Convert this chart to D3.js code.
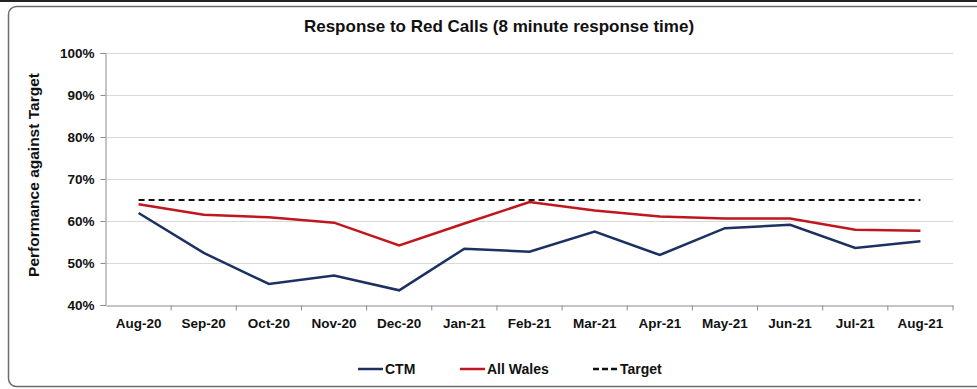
<html>
<head>
<meta charset="utf-8">
<title>Response to Red Calls</title>
<script src="https://d3js.org/d3.v7.min.js"></script>
<style>
  body { margin: 0; background: #fff; }
  text { font-family: "Liberation Sans", Arial, sans-serif; font-weight: bold; fill: #111; }
  .grid line { stroke: #d9d9d9; stroke-width: 1px; }
</style>
</head>
<body>
<div id="chart"></div>
<script>
// data
var months = ["Aug-20","Sep-20","Oct-20","Nov-20","Dec-20","Jan-21","Feb-21","Mar-21","Apr-21","May-21","Jun-21","Jul-21","Aug-21"];
var ctm = [61.9, 52.4, 45.0, 47.0, 43.5, 53.4, 52.7, 57.5, 51.9, 58.3, 59.1, 53.6, 55.2];
var allWales = [64.0, 61.5, 60.9, 59.6, 54.2, 59.4, 64.5, 62.5, 61.1, 60.6, 60.6, 57.9, 57.7];
var target = [65, 65, 65, 65, 65, 65, 65, 65, 65, 65, 65, 65, 65];
var yTicks = [40, 50, 60, 70, 80, 90, 100];

var width = 977, height = 389;
var margin = {top: 53, right: 24, bottom: 84, left: 106};

var svg = d3.select("#chart").append("svg")
    .attr("width", width)
    .attr("height", height);

// frame
svg.append("rect").attr("x", 0).attr("y", 0).attr("width", width).attr("height", 2).attr("fill", "#222");
svg.append("rect")
    .attr("x", 8.5).attr("y", 6.5).attr("width", 990).attr("height", 380)
    .attr("rx", 8)
    .attr("fill", "none").attr("stroke", "#6b6b6b").attr("stroke-width", 1.5);

var x = d3.scaleBand().domain(months).range([margin.left, width - margin.right]);
var y = d3.scaleLinear().domain([40, 100]).range([height - margin.bottom, margin.top]);

// grid
svg.append("g").attr("class", "grid")
  .selectAll("line").data(yTicks.slice(1)).enter().append("line")
    .attr("x1", margin.left).attr("x2", width - margin.right)
    .attr("y1", function(d) { return Math.round(y(d)) + 0.5; })
    .attr("y2", function(d) { return Math.round(y(d)) + 0.5; });

// y axis
var yAxis = svg.append("g")
    .attr("transform", "translate(" + (margin.left - 0.5) + ",0)")
    .call(d3.axisLeft(y).tickValues(yTicks).tickSize(5).tickPadding(6).tickFormat(function(d) { return d + "%"; }));
yAxis.selectAll("text").style("font-size", "13.5px");
yAxis.selectAll("line, path").attr("stroke", "#8c8c8c");

// x axis, ticks at band edges
var xAxis = svg.append("g")
    .attr("transform", "translate(0," + (Math.round(y(40)) + 0.5) + ")")
    .call(d3.axisBottom(x).tickSize(0).tickPadding(13));
xAxis.selectAll("text").style("font-size", "13.5px");
xAxis.select("path").attr("stroke", "#8c8c8c");
xAxis.selectAll(".edge").data(months.slice(1).concat(["end"])).enter().append("line")
    .attr("class", "edge")
    .attr("x1", function(d, i) { return x(months[0]) + x.step() * (i + 1); })
    .attr("x2", function(d, i) { return x(months[0]) + x.step() * (i + 1); })
    .attr("y1", 0).attr("y2", 5)
    .attr("stroke", "#8c8c8c");

function cx(d, i) { return x(months[i]) + x.bandwidth() / 2; }

var line = d3.line().x(cx).y(function(d) { return y(d); });

svg.append("path").datum(target)
    .attr("d", line).attr("fill", "none")
    .attr("stroke", "#111").attr("stroke-width", 2.2).attr("stroke-dasharray", "6,4");
svg.append("path").datum(allWales)
    .attr("d", line).attr("fill", "none")
    .attr("stroke", "#c0161e").attr("stroke-width", 2.5);
svg.append("path").datum(ctm)
    .attr("d", line).attr("fill", "none")
    .attr("stroke", "#1c3161").attr("stroke-width", 2.5);

// title & axis label
svg.append("text").attr("x", 499).attr("y", 32)
    .attr("text-anchor", "middle").style("font-size", "17px")
    .text("Response to Red Calls (8 minute response time)");

svg.append("text")
    .attr("transform", "translate(39,175) rotate(-90)")
    .attr("text-anchor", "middle").style("font-size", "15.5px")
    .text("Performance against Target");

// legend
var legend = [
  {name: "CTM", color: "#1c3161", dash: null, x: 358},
  {name: "All Wales", color: "#c0161e", dash: null, x: 460},
  {name: "Target", color: "#111", dash: "6,3", x: 593}
];
var lg = svg.selectAll(".lg").data(legend).enter().append("g").attr("class", "lg")
    .attr("transform", function(d) { return "translate(" + d.x + ",369)"; });
lg.append("line").attr("x1", 0).attr("x2", 25).attr("y1", 0).attr("y2", 0)
    .attr("stroke", function(d) { return d.color; })
    .attr("stroke-width", 2.5)
    .attr("stroke-dasharray", function(d) { return d.dash; });
lg.append("text").attr("x", 27).attr("y", 5).style("font-size", "14px")
    .text(function(d) { return d.name; });
</script>
</body>
</html>
